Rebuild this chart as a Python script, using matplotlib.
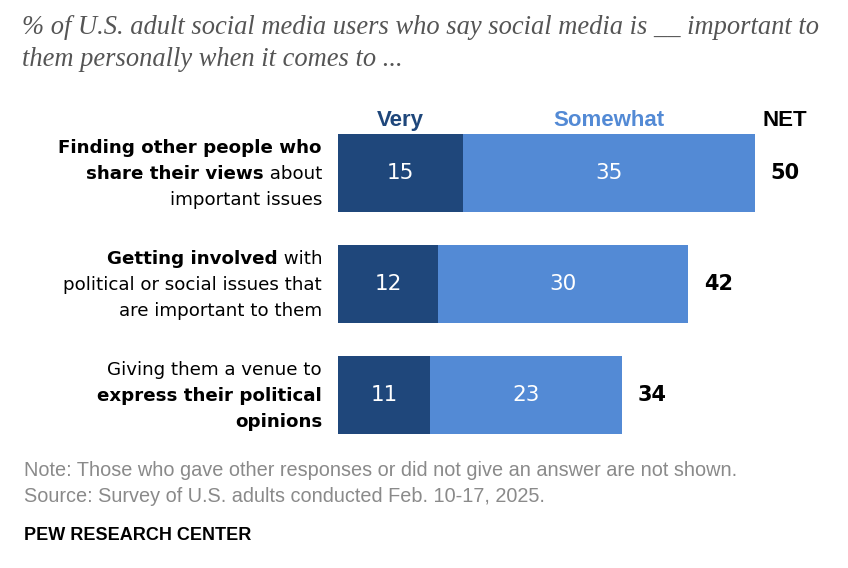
import matplotlib.pyplot as plt

# Donnees
categories = [
    [[("Finding other people who", True)],
     [("share their views", True), (" about", False)],
     [("important issues", False)]],
    [[("Getting involved", True), (" with", False)],
     [("political or social issues that", False)],
     [("are important to them", False)]],
    [[("Giving them a venue to", False)],
     [("express their political", True)],
     [("opinions", True)]],
]
very = [15, 12, 11]
somewhat = [35, 30, 23]
net = [50, 42, 34]

DARK = "#1f477b"
LIGHT = "#538ad5"
SANS = ["DejaVu Sans"]
NARROW = ["Liberation Sans Narrow", "Liberation Sans", "DejaVu Sans"]

W, H = 848, 568
fig = plt.figure(figsize=(W / 100, H / 100), dpi=100)

# axe des barres : 8.34 px par point, de x=338 px
px_per_unit = 8.34
ax_left, ax_right = 338, 838
ax_top, ax_bot = 117.5, 450.5
ax = fig.add_axes([ax_left / W, 1 - ax_bot / H, (ax_right - ax_left) / W, (ax_bot - ax_top) / H])
ax.set_xlim(0, (ax_right - ax_left) / px_per_unit)
ax.set_ylim(2.5, -0.5)
ax.axis("off")

y = list(range(len(very)))
ax.barh(y, very, height=0.703, color=DARK)
ax.barh(y, somewhat, left=very, height=0.703, color=LIGHT)

for i in y:
    ax.text(very[i] / 2, i, str(very[i]), color="white", ha="center", va="center",
            fontsize=15.5, family=SANS)
    ax.text(very[i] + somewhat[i] / 2, i, str(somewhat[i]), color="white", ha="center",
            va="center", fontsize=15.5, family=SANS)
    ax.text(net[i] + 3.6, i, str(net[i]), color="black", ha="center", va="center",
            fontsize=15, fontweight="bold", family=SANS)

# en-tetes
ax.text(very[0] / 2, -0.47, "Very", color=DARK, ha="center", va="center",
        fontsize=16, fontweight="bold", family=NARROW)
ax.text(very[0] + somewhat[0] / 2, -0.47, "Somewhat", color=LIGHT, ha="center",
        va="center", fontsize=16, fontweight="bold", family=NARROW)
ax.text(net[0] + 3.6, -0.47, "NET", color="black", ha="center", va="center",
        fontsize=16, fontweight="bold", family=NARROW)

# etiquettes (gras / normal melanges, alignees a droite)
renderer = fig.canvas.get_renderer()
label_right = 322
line_gap = 26
for i, lines in enumerate(categories):
    yc = 174 + i * 111
    for j, parts in enumerate(lines):
        yy = yc + (j - 1) * line_gap
        x = label_right
        for txt, bold in reversed(parts):
            t = fig.text(x / W, 1 - yy / H, txt, ha="right", va="center", fontsize=13.15,
                         fontweight="bold" if bold else "normal", family=SANS)
            bb = t.get_window_extent(renderer)
            x -= bb.width

# titre
fig.text(22 / W, 1 - 27 / H,
         "% of U.S. adult social media users who say social media is __ important to",
         ha="left", va="center", fontsize=19.1, style="italic", color="#555555",
         family=["Liberation Serif"])
fig.text(22 / W, 1 - 60 / H, "them personally when it comes to ...",
         ha="left", va="center", fontsize=19.1, style="italic", color="#555555",
         family=["Liberation Serif"])

# notes
fig.text(24 / W, 1 - 470 / H,
         "Note: Those who gave other responses or did not give an answer are not shown.",
         ha="left", va="center", fontsize=14.3, color="#8a8a8a", family=NARROW)
fig.text(24 / W, 1 - 496 / H, "Source: Survey of U.S. adults conducted Feb. 10-17, 2025.",
         ha="left", va="center", fontsize=14.3, color="#8a8a8a", family=NARROW)
fig.text(24 / W, 1 - 536 / H, "PEW RESEARCH CENTER",
         ha="left", va="center", fontsize=13, fontweight="bold", color="black", family=NARROW)

fig.savefig("out.png", dpi=100)
